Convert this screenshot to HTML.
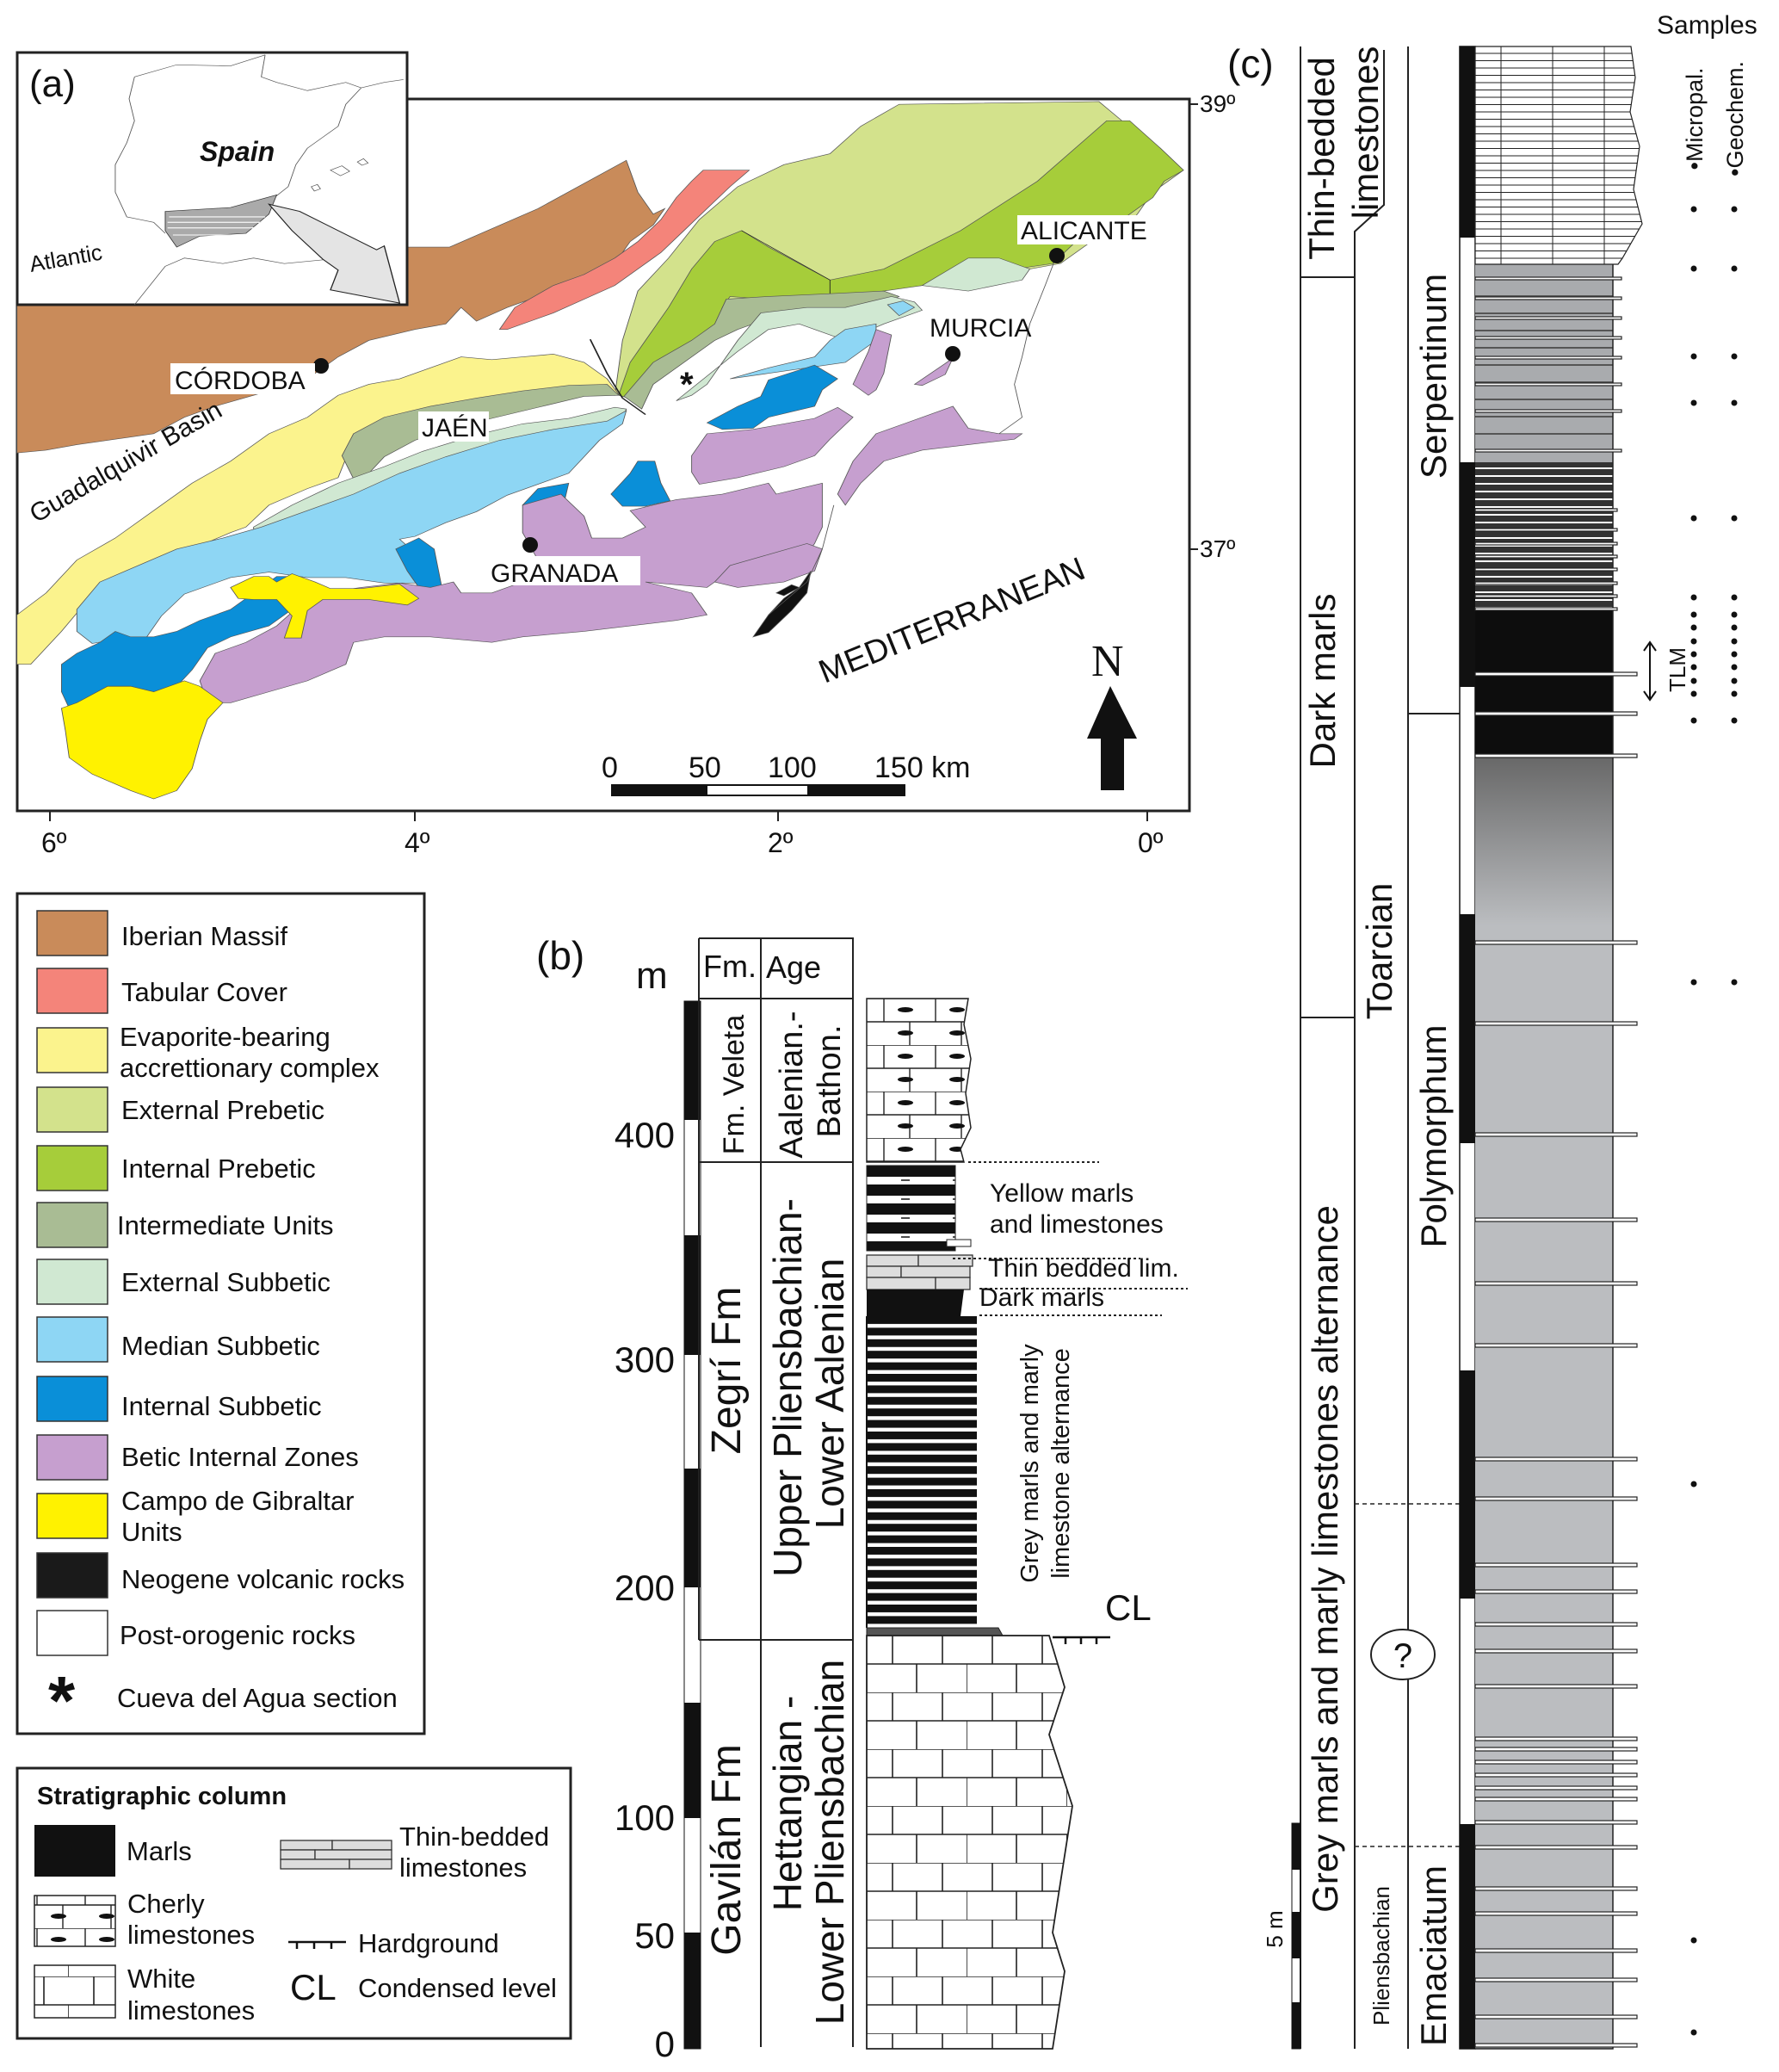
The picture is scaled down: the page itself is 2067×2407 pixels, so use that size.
<!DOCTYPE html>
<html><head><meta charset="utf-8"><style>
html,body{margin:0;padding:0;background:#fff;}
svg{display:block;}
text{font-family:"Liberation Sans",sans-serif;fill:#111;}
</style></head><body>
<svg width="2067" height="2407" viewBox="0 0 2067 2407" xmlns="http://www.w3.org/2000/svg">
<defs>
<pattern id="brick" width="116" height="66" patternUnits="userSpaceOnUse" x="1007" y="1900">
<rect width="116" height="66" fill="#fff"/>
<path d="M0,0H116M0,33H116M30,0V33M88,0V33M0,33V66M58,33V66" stroke="#222" stroke-width="1.6" fill="none"/>
</pattern>
<pattern id="cherty" width="116" height="54" patternUnits="userSpaceOnUse" x="1007" y="1160">
<rect width="116" height="54" fill="#fff"/>
<path d="M0,0H116M0,27H116M20,0V27M80,0V27M50,27V54M110,27V54" stroke="#222" stroke-width="1.4" fill="none"/>
<ellipse cx="45" cy="13" rx="9" ry="3" fill="#111"/><ellipse cx="105" cy="13" rx="9" ry="3" fill="#111"/>
<ellipse cx="45" cy="40" rx="9" ry="3" fill="#111"/><ellipse cx="105" cy="40" rx="9" ry="3" fill="#111"/>
</pattern>
<pattern id="alt" width="200" height="13.4" patternUnits="userSpaceOnUse" x="1007" y="1529">
<rect width="200" height="13.4" fill="#fff"/><rect width="200" height="9" fill="#111"/>
</pattern>
<pattern id="yel" width="200" height="22" patternUnits="userSpaceOnUse" x="1007" y="1354">
<rect width="200" height="22" fill="#fff"/><rect width="200" height="13" fill="#111"/>
<path d="M40,17H50M100,17H110M160,17H170" stroke="#111" stroke-width="1.5"/>
</pattern>
<pattern id="thin" width="200" height="8.5" patternUnits="userSpaceOnUse" x="1714" y="54">
<rect width="200" height="8.5" fill="#fff"/><path d="M0,8H200M30,0V8M90,0V8M150,0V8" stroke="#222" stroke-width="1"/>
</pattern>
<pattern id="dk" width="200" height="9" patternUnits="userSpaceOnUse" x="1714" y="537">
<rect width="200" height="9" fill="#333"/><rect y="6" width="200" height="2" fill="#fff"/>
</pattern>
<pattern id="lt" width="200" height="20" patternUnits="userSpaceOnUse" x="1714" y="307">
<rect width="200" height="20" fill="#a9abae"/><rect y="16" width="200" height="2" fill="#555"/>
</pattern>
<linearGradient id="g1" x1="0" y1="0" x2="0" y2="1"><stop offset="0" stop-color="#666"/><stop offset="1" stop-color="#bbbdc0"/></linearGradient>
</defs>

<!-- ============ MAP (a) ============ -->
<rect x="20" y="115" width="1362" height="827" fill="#fff" stroke="#222" stroke-width="3"/>
<g transform="scale(0.8929,0.6378)" stroke="#555" stroke-width="1" vector-effect="non-scaling-stroke">
<polygon fill="#c98b5a" points="22,555 530,555 530,450 585,450 700,380 815,292 830,350 850,390 865,380 850,410 820,440 800,480 760,500 740,520 700,540 660,560 620,585 600,560 580,590 540,600 480,620 440,650 410,680 380,700 330,720 280,740 240,760 200,790 150,800 100,810 60,820 22,825"/>
<polygon fill="#f4847a" points="650,600 670,560 720,520 760,500 800,470 830,440 860,400 880,360 900,330 915,310 975,310 950,340 920,380 890,420 860,460 830,490 800,520 760,545 720,570 690,585 660,600"/>
<polygon fill="#d3e28c" points="800,720 810,620 830,530 870,470 910,400 960,340 1020,300 1080,280 1120,230 1170,190 1430,185 1460,220 1510,270 1540,310 1520,330 1500,350 1480,390 1460,420 1420,440 1380,480 1300,500 1200,520 1100,530 1000,560 950,600 900,650 850,700"/>
<polygon fill="#a6cd3a" points="805,720 820,660 840,620 870,560 900,490 930,440 965,420 1000,450 1080,510 1150,490 1250,420 1350,330 1440,220 1470,220 1510,270 1540,310 1515,330 1500,360 1480,380 1460,400 1440,420 1400,440 1370,480 1320,490 1250,510 1200,520 1150,530 1100,540 1060,545 1000,545 950,540 940,560 930,600 900,620 870,650 850,700 830,730"/>
<polyline fill="none" stroke="#222" points="965,420 1080,510 1080,540"/>
<polygon fill="#fbf38d" points="22,1210 22,1120 60,1080 100,1020 150,980 200,930 250,880 300,840 350,790 400,760 440,720 480,700 520,690 560,670 600,650 640,655 680,650 720,645 760,660 790,690 805,718 760,710 700,722 650,730 600,745 550,765 500,785 470,805 450,835 440,870 400,890 350,920 320,960 300,970 250,1000 200,1030 150,1070 110,1100 80,1150 60,1180 40,1210"/>
<polygon fill="#a9bc94" points="445,830 460,790 500,760 560,740 620,725 680,712 740,702 790,700 805,720 760,722 700,742 640,762 580,782 540,802 500,832 480,862 460,872"/>
<polygon fill="#a9bc94" points="930,590 945,545 1000,540 1080,535 1150,530 1170,540 1140,560 1080,570 1000,580 960,600 930,620 900,650 850,700 835,745 812,722 850,660 900,620"/>
<polygon fill="#d0e8d2" points="330,960 380,920 440,880 500,850 550,822 620,792 680,772 740,762 800,742 815,745 810,762 780,782 700,802 620,832 540,862 480,902 420,932 360,962 330,975"/>
<polygon fill="#d0e8d2" points="880,730 900,720 920,700 940,660 960,620 990,570 1050,560 1100,560 1160,540 1190,550 1200,565 1150,590 1100,620 1060,600 1040,590 1000,600 960,640"/>
<polygon fill="#d0e8d2" points="1200,520 1260,470 1300,470 1340,490 1330,510 1260,530"/>
<polygon fill="#8ed6f4" points="100,1110 130,1060 180,1030 230,1000 290,980 340,960 400,930 460,900 520,862 580,832 650,802 720,782 790,767 815,748 810,772 780,802 760,832 740,862 700,882 660,902 620,932 580,952 540,977 520,982 560,1032 540,1062 500,1062 450,1052 400,1052 350,1042 300,1052 240,1082 210,1122 190,1162 160,1162 120,1172 100,1150"/>
<polygon fill="#8ed6f4" points="950,690 1000,670 1060,650 1080,620 1100,600 1140,590 1140,620 1100,660 1050,670 1000,680"/>
<polygon fill="#8ed6f4" points="1155,555 1175,548 1190,560 1170,575"/>
<polygon fill="#0a8fd8" points="920,770 960,740 990,722 1000,692 1060,665 1090,690 1070,710 1060,740 1000,760 980,780 940,782"/>
<polygon fill="#0a8fd8" points="795,900 820,862 830,840 852,840 860,880 872,912 840,922 810,922"/>
<polygon fill="#0a8fd8" points="680,920 700,890 740,880 735,910 700,920"/>
<polygon fill="#0a8fd8" points="515,1000 545,980 565,1000 575,1070 550,1080 530,1040"/>
<polygon fill="#0a8fd8" points="80,1210 100,1190 130,1170 150,1150 170,1160 200,1160 230,1150 260,1130 300,1110 330,1080 360,1050 380,1050 400,1060 390,1100 350,1140 300,1160 270,1180 250,1220 230,1250 200,1260 170,1250 140,1250 110,1280 90,1290 80,1260"/>
<polygon fill="#c69fcf" points="260,1240 280,1190 320,1170 360,1140 400,1090 420,1080 470,1070 520,1062 560,1070 590,1060 600,1080 640,1080 680,1060 700,1020 680,970 680,920 730,900 760,940 770,980 810,980 840,960 820,930 880,910 940,900 1000,880 1010,900 1040,890 1070,880 1070,960 1060,990 1050,1010 1000,1020 950,1040 920,1070 840,1060 900,1080 920,1120 880,1130 820,1140 760,1150 680,1160 640,1170 560,1160 500,1160 460,1170 450,1210 400,1240 350,1260 300,1280 270,1280"/>
<polygon fill="#c69fcf" points="900,830 920,790 980,782 1060,762 1090,742 1110,760 1080,800 1060,830 1020,850 960,870 910,882 900,860"/>
<polygon fill="#c69fcf" points="1090,900 1110,840 1140,790 1180,770 1240,740 1260,780 1300,790 1330,790 1320,800 1260,810 1200,820 1150,840 1120,880 1100,920"/>
<polygon fill="#c69fcf" points="1110,700 1130,640 1140,600 1160,610 1150,680 1140,710 1130,720"/>
<polygon fill="#c69fcf" points="1190,700 1230,662 1240,652 1230,682 1200,702"/>
<polygon fill="#c69fcf" points="930,1060 950,1030 1000,1010 1050,990 1070,1000 1060,1040 1020,1060 960,1070"/>
<polygon fill="#fff200" points="80,1290 100,1280 140,1250 170,1250 200,1260 240,1240 260,1250 290,1280 270,1310 260,1350 250,1400 230,1440 200,1455 170,1440 120,1410 90,1380 85,1330"/>
<polygon fill="#fff200" points="300,1070 330,1050 350,1050 360,1060 380,1045 410,1060 430,1072 470,1072 520,1064 545,1090 530,1102 480,1092 420,1092 400,1112 392,1162 370,1162 380,1122 360,1092 330,1092 310,1090"/>
<polygon fill="#111" points="980,1160 1000,1120 1020,1090 1040,1070 1055,1040 1050,1080 1030,1112 1000,1152"/>
<polygon fill="#111" points="1010,1080 1030,1065 1040,1070 1020,1085"/>
<polyline fill="none" stroke="#222" stroke-width="2" points="768,618 790,680 810,725 840,755"/>
<path fill="none" stroke="#555" d="M1375,465 L1360,520 1340,590 1330,650 1320,700 1330,760 1300,790 M1085,920 1070,1000 1050,1060 1000,1120"/>
</g>
<circle cx="373" cy="425" r="9" fill="#111"/>
<circle cx="1228" cy="297" r="9" fill="#111"/>
<circle cx="1107" cy="411" r="9" fill="#111"/>
<circle cx="616" cy="633" r="9" fill="#111"/>
<text x="790" y="460" font-size="40" font-weight="bold">*</text>
<rect x="198" y="422" width="168" height="36" fill="#fff"/>
<text x="203" y="452" font-size="30">CÓRDOBA</text>
<rect x="486" y="478" width="82" height="35" fill="#fff"/>
<text x="490" y="507" font-size="30">JAÉN</text>
<rect x="1182" y="250" width="160" height="34" fill="#fff"/>
<text x="1186" y="278" font-size="30">ALICANTE</text>
<text x="1080" y="391" font-size="30">MURCIA</text>
<rect x="566" y="646" width="178" height="34" fill="#fff"/>
<text x="570" y="676" font-size="30">GRANADA</text>
<text transform="translate(42,608) rotate(-30)" font-size="30">Guadalquivir Basin</text>
<text transform="translate(958,794) rotate(-22)" font-size="38">MEDITERRANEAN</text>
<text x="1268" y="785" font-size="52" style="font-family:'Liberation Serif',serif">N</text>
<polygon points="1290,797 1263,858 1279,858 1279,918 1306,918 1306,858 1321,858" fill="#111"/>
<rect x="710" y="911" width="342" height="14" fill="#111"/>
<rect x="822" y="913" width="116" height="10" fill="#fff"/>
<text x="699" y="903" font-size="34">0</text>
<text x="800" y="903" font-size="34">50</text>
<text x="892" y="903" font-size="34">100</text>
<text x="1016" y="903" font-size="34">150 km</text>
<text x="48" y="990" font-size="32">6º</text>
<text x="470" y="990" font-size="32">4º</text>
<text x="892" y="990" font-size="32">2º</text>
<text x="1322" y="990" font-size="32">0º</text>
<path d="M58,942v12M482,942v12M904,942v12M1333,942v12M1382,121h10M1382,638h10" stroke="#222" stroke-width="2"/>
<text x="1394" y="130" font-size="28">39º</text>
<text x="1394" y="647" font-size="28">37º</text>

<rect x="20" y="61" width="453" height="293" fill="#fff" stroke="#222" stroke-width="3"/>
<g transform="scale(0.8929,0.6378)" fill="none" stroke="#555" vector-effect="non-scaling-stroke">
<path d="M175,140 L230,118 300,120 345,100 M345,100 L340,140 360,150 400,165 450,150 470,160 500,150 525,145 M470,160 L450,190 440,230 420,250 400,270 385,300 375,340 355,362 M175,140 L168,180 175,220 165,260 150,300 150,350 165,395 200,405 215,425"/>
<path d="M175,555 L215,485 240,470 290,480 330,470 370,480 430,472 470,480"/>
<path d="M430,310 l15,-8 10,10 -12,8z M465,295 l8,-6 6,8 -8,4z M405,340 l8,-4 4,8 -8,4z"/>
</g>
<g transform="scale(0.8929,0.6378)" vector-effect="non-scaling-stroke">
<polygon points="215,385 300,378 360,355 350,390 320,425 260,430 230,450 215,420" fill="#aaa" stroke="#333"/>
<path d="M220,395H345M218,405H340M218,415H330M225,428H300" stroke="#eee" stroke-width="2"/>
<polygon points="350,372 390,385 440,420 490,455 500,448 520,552 430,528 440,492 420,472 380,420" fill="#e4e4e4" stroke="#222" stroke-width="1.5"/>
</g>
<text x="34" y="112" font-size="44">(a)</text>
<text x="232" y="187" font-size="32" font-weight="bold" font-style="italic">Spain</text>
<text transform="translate(36,316) rotate(-10)" font-size="26">Atlantic</text>

<!-- ============ LEGEND ============ -->
<rect x="20" y="1038" width="473" height="976" fill="#fff" stroke="#222" stroke-width="3"/>
<g stroke="#333" stroke-width="1.5">
<rect x="43" y="1058" width="82" height="52" fill="#c98b5a"/>
<rect x="43" y="1125" width="82" height="52" fill="#f4847a"/>
<rect x="43" y="1194" width="82" height="52" fill="#fbf38d"/>
<rect x="43" y="1263" width="82" height="52" fill="#d3e28c"/>
<rect x="43" y="1331" width="82" height="52" fill="#a6cd3a"/>
<rect x="43" y="1397" width="82" height="52" fill="#a9bc94"/>
<rect x="43" y="1463" width="82" height="52" fill="#d0e8d2"/>
<rect x="43" y="1530" width="82" height="52" fill="#8ed6f4"/>
<rect x="43" y="1599" width="82" height="52" fill="#0a8fd8"/>
<rect x="43" y="1667" width="82" height="52" fill="#c69fcf"/>
<rect x="43" y="1735" width="82" height="52" fill="#fff200"/>
<rect x="43" y="1804" width="82" height="52" fill="#1a1a1a"/>
<rect x="43" y="1871" width="82" height="52" fill="#fff"/>
</g>
<g font-size="31">
<text x="141" y="1098">Iberian Massif</text>
<text x="141" y="1163">Tabular Cover</text>
<text x="139" y="1215">Evaporite-bearing</text>
<text x="139" y="1251">accrettionary complex</text>
<text x="141" y="1300">External Prebetic</text>
<text x="141" y="1368">Internal Prebetic</text>
<text x="136" y="1434">Intermediate Units</text>
<text x="141" y="1500">External Subbetic</text>
<text x="141" y="1574">Median Subbetic</text>
<text x="141" y="1644">Internal Subbetic</text>
<text x="141" y="1703">Betic Internal Zones</text>
<text x="141" y="1754">Campo de Gibraltar</text>
<text x="141" y="1790">Units</text>
<text x="141" y="1845">Neogene volcanic rocks</text>
<text x="139" y="1910">Post-orogenic rocks</text>
<text x="136" y="1983">Cueva del Agua section</text>
</g>
<text x="56" y="2003" font-size="80" font-weight="bold">*</text>

<rect x="20" y="2054" width="643" height="314" fill="#fff" stroke="#222" stroke-width="3"/>
<text x="43" y="2096" font-size="29" font-weight="bold">Stratigraphic column</text>
<rect x="40" y="2120" width="94" height="60" fill="#111"/>
<text x="147" y="2161" font-size="31">Marls</text>
<rect x="40" y="2202" width="94" height="59" fill="url(#cherty)" stroke="#222" stroke-width="1.5"/>
<text x="148" y="2222" font-size="31">Cherly</text>
<text x="148" y="2258" font-size="31">limestones</text>
<rect x="40" y="2283" width="94" height="61" fill="url(#brick)" stroke="#222" stroke-width="1.5"/>
<text x="148" y="2309" font-size="31">White</text>
<text x="148" y="2346" font-size="31">limestones</text>
<g fill="#ddd" stroke="#333" stroke-width="1.3">
<rect x="326" y="2138" width="60" height="11"/><rect x="386" y="2138" width="69" height="11"/>
<rect x="326" y="2149" width="40" height="11"/><rect x="366" y="2149" width="89" height="11"/>
<rect x="326" y="2160" width="80" height="11"/><rect x="406" y="2160" width="49" height="11"/>
</g>
<text x="464" y="2144" font-size="31">Thin-bedded</text>
<text x="464" y="2180" font-size="31">limestones</text>
<path d="M335,2256H402M345,2256v8M365,2256v8M385,2256v8" stroke="#111" stroke-width="2.5" fill="none"/>
<text x="416" y="2268" font-size="31">Hardground</text>
<text x="337" y="2323" font-size="42">CL</text>
<text x="416" y="2320" font-size="31">Condensed level</text>

<!-- ============ PANEL (b) ============ -->
<text x="623" y="1126" font-size="46">(b)</text>
<text x="739" y="1148" font-size="44">m</text>
<rect x="795" y="1163" width="19" height="1217" fill="#fff" stroke="#111" stroke-width="1"/>
<g fill="#111">
<rect x="795" y="1163" width="19" height="138"/>
<rect x="795" y="1435" width="19" height="139"/>
<rect x="795" y="1706" width="19" height="138"/>
<rect x="795" y="1978" width="19" height="134"/>
<rect x="795" y="2245" width="19" height="135"/>
</g>
<g font-size="42" text-anchor="end">
<text x="784" y="1333">400</text>
<text x="784" y="1594">300</text>
<text x="784" y="1859">200</text>
<text x="784" y="2126">100</text>
<text x="784" y="2263">50</text>
<text x="784" y="2389">0</text>
</g>
<path d="M812,1090H991V1160M812,1090V1905M884,1090V2378M991,1090V2378M812,1160H991M812,1350H991M812,1905H991" stroke="#222" stroke-width="2" fill="none"/>
<text x="817" y="1135" font-size="36">Fm.</text>
<text x="890" y="1136" font-size="36">Age</text>
<text transform="translate(864,1260) rotate(-90)" font-size="34" text-anchor="middle">Fm. Veleta</text>
<text transform="translate(932,1260) rotate(-90)" font-size="38" text-anchor="middle">Aalenian.-</text>
<text transform="translate(976,1256) rotate(-90)" font-size="38" text-anchor="middle">Bathon.</text>
<text transform="translate(860,1592) rotate(-90)" font-size="48" text-anchor="middle">Zegrí Fm</text>
<text transform="translate(931,1612) rotate(-90)" font-size="46" text-anchor="middle">Upper Pliensbachian-</text>
<text transform="translate(980,1619) rotate(-90)" font-size="46" text-anchor="middle">Lower Aalenian</text>
<text transform="translate(860,2149) rotate(-90)" font-size="48" text-anchor="middle">Gavilán Fm</text>
<text transform="translate(931,2095) rotate(-90)" font-size="46" text-anchor="middle">Hettangian -</text>
<text transform="translate(980,2140) rotate(-90)" font-size="46" text-anchor="middle">Lower Pliensbachian</text>

<path d="M1007,1160 H1125 L1120,1190 1128,1230 1122,1270 1128,1310 1116,1335 1120,1350 H1007Z" fill="url(#cherty)" stroke="#222" stroke-width="1.5"/>
<rect x="1007" y="1354" width="103" height="99" fill="url(#yel)" stroke="#222" stroke-width="1"/>
<path d="M1100,1440h28v8h-28z" fill="#fff" stroke="#222"/>
<g fill="#ddd" stroke="#333" stroke-width="1.3">
<rect x="1007" y="1458" width="60" height="13"/><rect x="1067" y="1458" width="63" height="13"/>
<rect x="1007" y="1471" width="40" height="13"/><rect x="1047" y="1471" width="80" height="13"/>
<rect x="1007" y="1484" width="80" height="14"/><rect x="1087" y="1484" width="40" height="14"/>
</g>
<path d="M1007,1498H1120L1116,1529H1007Z" fill="#111"/>
<rect x="1007" y="1529" width="128" height="362" fill="url(#alt)"/>
<path d="M1007,1529V1891" stroke="#111" stroke-width="2"/>
<path d="M1007,1891H1160L1165,1900H1007Z" fill="#555" stroke="#222"/>
<path d="M1007,1900 H1219 L1237,1960 1219,2015 1246,2098 1223,2245 1237,2290 1223,2380 H1007Z" fill="url(#brick)" stroke="#222" stroke-width="1.8"/>
<path d="M1223,1902H1290M1238,1902v8M1256,1902v8M1274,1902v8" stroke="#111" stroke-width="2.5" fill="none"/>
<text x="1284" y="1882" font-size="42">CL</text>
<g stroke="#222" stroke-width="2" stroke-dasharray="3,3">
<path d="M1125,1350H1277M1107,1462H1325M1138,1497H1380M1138,1528H1350"/>
</g>
<g font-size="30">
<text x="1150" y="1396">Yellow marls</text>
<text x="1150" y="1432">and limestones</text>
<text x="1148" y="1483">Thin bedded lim.</text>
<text x="1138" y="1517">Dark marls</text>
</g>
<text transform="translate(1206,1700) rotate(-90)" font-size="29" text-anchor="middle">Grey marls and marly</text>
<text transform="translate(1242,1700) rotate(-90)" font-size="29" text-anchor="middle">limestone alternance</text>

<!-- ============ PANEL (c) ============ -->
<text x="1426" y="90" font-size="46">(c)</text>
<text x="1925" y="39" font-size="30">Samples</text>
<path d="M1511,54V2380M1636,54V2380M1574,2380V269L1608,238V58M1511,322H1574M1511,1182H1574M1636,829H1696" stroke="#222" stroke-width="2" fill="none"/>
<path d="M1574,1747H1696M1574,2145H1696" stroke="#222" stroke-width="1.5" stroke-dasharray="5,4"/>
<g fill="#111"><rect x="1501" y="2118" width="10" height="54"/><rect x="1501" y="2221" width="10" height="54"/><rect x="1501" y="2326" width="10" height="54"/></g>
<rect x="1501" y="2118" width="10" height="262" fill="none" stroke="#111" stroke-width="1"/>
<text transform="translate(1490,2241) rotate(-90)" font-size="26" text-anchor="middle">5 m</text>
<text transform="translate(1550,184) rotate(-90)" font-size="42" text-anchor="middle">Thin-bedded</text>
<text transform="translate(1601,154) rotate(-90)" font-size="42" text-anchor="middle">limestones</text>
<text transform="translate(1551,791) rotate(-90)" font-size="42" text-anchor="middle">Dark marls</text>
<text transform="translate(1554,1811) rotate(-90)" font-size="42" text-anchor="middle">Grey marls and marly limestones alternance</text>
<text transform="translate(1614,2272) rotate(-90)" font-size="26" text-anchor="middle">Pliensbachian</text>
<text transform="translate(1617,1105) rotate(-90)" font-size="42" text-anchor="middle">Toarcian</text>
<ellipse cx="1630" cy="1922" rx="37" ry="29" fill="#fff" stroke="#222" stroke-width="2"/>
<text x="1630" y="1937" font-size="40" text-anchor="middle">?</text>
<text transform="translate(1680,437) rotate(-90)" font-size="42" text-anchor="middle">Serpentinum</text>
<text transform="translate(1680,1320) rotate(-90)" font-size="42" text-anchor="middle">Polymorphum</text>
<text transform="translate(1680,2272) rotate(-90)" font-size="42" text-anchor="middle">Emaciatum</text>

<rect x="1696" y="54" width="18" height="2326" fill="#fff" stroke="#111" stroke-width="1.5"/>
<g fill="#111">
<rect x="1696" y="54" width="18" height="222"/>
<rect x="1696" y="537" width="18" height="261"/>
<rect x="1696" y="1062" width="18" height="266"/>
<rect x="1696" y="1592" width="18" height="265"/>
<rect x="1696" y="2119" width="18" height="261"/>
</g>
<rect x="1714" y="875" width="160" height="1505" fill="#bbbdc0"/>
<rect x="1714" y="875" width="160" height="200" fill="url(#g1)"/>
<rect x="1714" y="706" width="160" height="170" fill="#0d0d0d"/>
<rect x="1714" y="537" width="160" height="170" fill="url(#dk)"/>
<rect x="1714" y="307" width="160" height="230" fill="url(#lt)"/>
<path d="M1714,54H1895L1900,90 1894,130 1905,170 1898,220 1908,260 1885,300 1880,307H1714Z" fill="url(#thin)" stroke="#222" stroke-width="1.2"/>
<path d="M1874,307V2380H1714" stroke="#222" stroke-width="1.5" fill="none"/>
<g stroke="#222" stroke-width="1.2" fill="#fff">
<rect x="1714" y="1093" width="188" height="4"/><rect x="1714" y="1187" width="188" height="4"/><rect x="1714" y="1316" width="188" height="4"/><rect x="1714" y="1415" width="188" height="4"/><rect x="1714" y="1489" width="188" height="4"/><rect x="1714" y="1561" width="188" height="4"/><rect x="1714" y="1693" width="188" height="4"/><rect x="1714" y="1739" width="188" height="4"/><rect x="1714" y="1816" width="188" height="4"/><rect x="1714" y="1847" width="188" height="4"/><rect x="1714" y="1885" width="188" height="4"/><rect x="1714" y="1916" width="188" height="4"/><rect x="1714" y="1957" width="188" height="4"/><rect x="1714" y="2018" width="188" height="4"/><rect x="1714" y="2030" width="188" height="4"/><rect x="1714" y="2045" width="188" height="4"/><rect x="1714" y="2060" width="188" height="4"/><rect x="1714" y="2075" width="188" height="4"/><rect x="1714" y="2088" width="188" height="4"/><rect x="1714" y="2115" width="188" height="4"/><rect x="1714" y="2144" width="188" height="4"/><rect x="1714" y="2192" width="188" height="4"/><rect x="1714" y="2221" width="188" height="4"/><rect x="1714" y="2264" width="188" height="4"/><rect x="1714" y="2298" width="188" height="4"/><rect x="1714" y="2341" width="188" height="4"/><rect x="1714" y="2374" width="188" height="4"/>
<rect x="1714" y="781" width="188" height="4"/><rect x="1714" y="827" width="188" height="4"/><rect x="1714" y="876" width="188" height="4"/>
<rect x="1714" y="322" width="170" height="3"/><rect x="1714" y="345" width="170" height="3"/><rect x="1714" y="368" width="170" height="3"/><rect x="1714" y="391" width="170" height="3"/><rect x="1714" y="414" width="170" height="3"/><rect x="1714" y="445" width="170" height="3"/><rect x="1714" y="476" width="170" height="3"/><rect x="1714" y="522" width="170" height="3"/>
<rect x="1714" y="591" width="165" height="3"/><rect x="1714" y="614" width="165" height="3"/><rect x="1714" y="630" width="165" height="3"/><rect x="1714" y="645" width="165" height="3"/><rect x="1714" y="660" width="165" height="3"/><rect x="1714" y="676" width="165" height="3"/><rect x="1714" y="691" width="165" height="3"/><rect x="1714" y="706" width="165" height="3"/>
</g>
<g fill="#111">
<circle cx="1968" cy="243" r="3.5"/><circle cx="2015" cy="243" r="3.5"/>
<circle cx="1968" cy="312" r="3.5"/><circle cx="2015" cy="312" r="3.5"/>
<circle cx="1968" cy="414" r="3.5"/><circle cx="2015" cy="414" r="3.5"/>
<circle cx="1968" cy="468" r="3.5"/><circle cx="2015" cy="468" r="3.5"/>
<circle cx="1968" cy="602" r="3.5"/><circle cx="2015" cy="602" r="3.5"/>
<circle cx="1968" cy="694" r="3.5"/><circle cx="2015" cy="694" r="3.5"/>
<circle cx="1968" cy="714" r="3.5"/><circle cx="2015" cy="714" r="3.5"/>
<circle cx="1968" cy="729" r="3.5"/><circle cx="2015" cy="729" r="3.5"/>
<circle cx="1968" cy="745" r="3.5"/><circle cx="2015" cy="745" r="3.5"/>
<circle cx="1968" cy="760" r="3.5"/><circle cx="2015" cy="760" r="3.5"/>
<circle cx="1968" cy="775" r="3.5"/><circle cx="2015" cy="775" r="3.5"/>
<circle cx="1968" cy="791" r="3.5"/><circle cx="2015" cy="791" r="3.5"/>
<circle cx="1968" cy="806" r="3.5"/><circle cx="2015" cy="806" r="3.5"/>
<circle cx="1968" cy="837" r="3.5"/><circle cx="2015" cy="837" r="3.5"/>
<circle cx="1968" cy="1141" r="3.5"/><circle cx="2015" cy="1141" r="3.5"/>
<circle cx="1968" cy="1724" r="3.5"/>
<circle cx="1968" cy="2254" r="3.5"/>
<circle cx="1968" cy="2361" r="3.5"/>
</g>
<text transform="translate(1978,138) rotate(-90)" font-size="27" text-anchor="middle">•Micropal.</text>
<text transform="translate(2025,138) rotate(-90)" font-size="27" text-anchor="middle">•Geochem.</text>
<path d="M1917,747V812M1910,756l7,-10 7,10M1910,803l7,10 7,-10" stroke="#111" stroke-width="2" fill="none"/>
<text transform="translate(1958,778) rotate(-90)" font-size="26" text-anchor="middle">TLM</text>
</svg>
</body></html>
